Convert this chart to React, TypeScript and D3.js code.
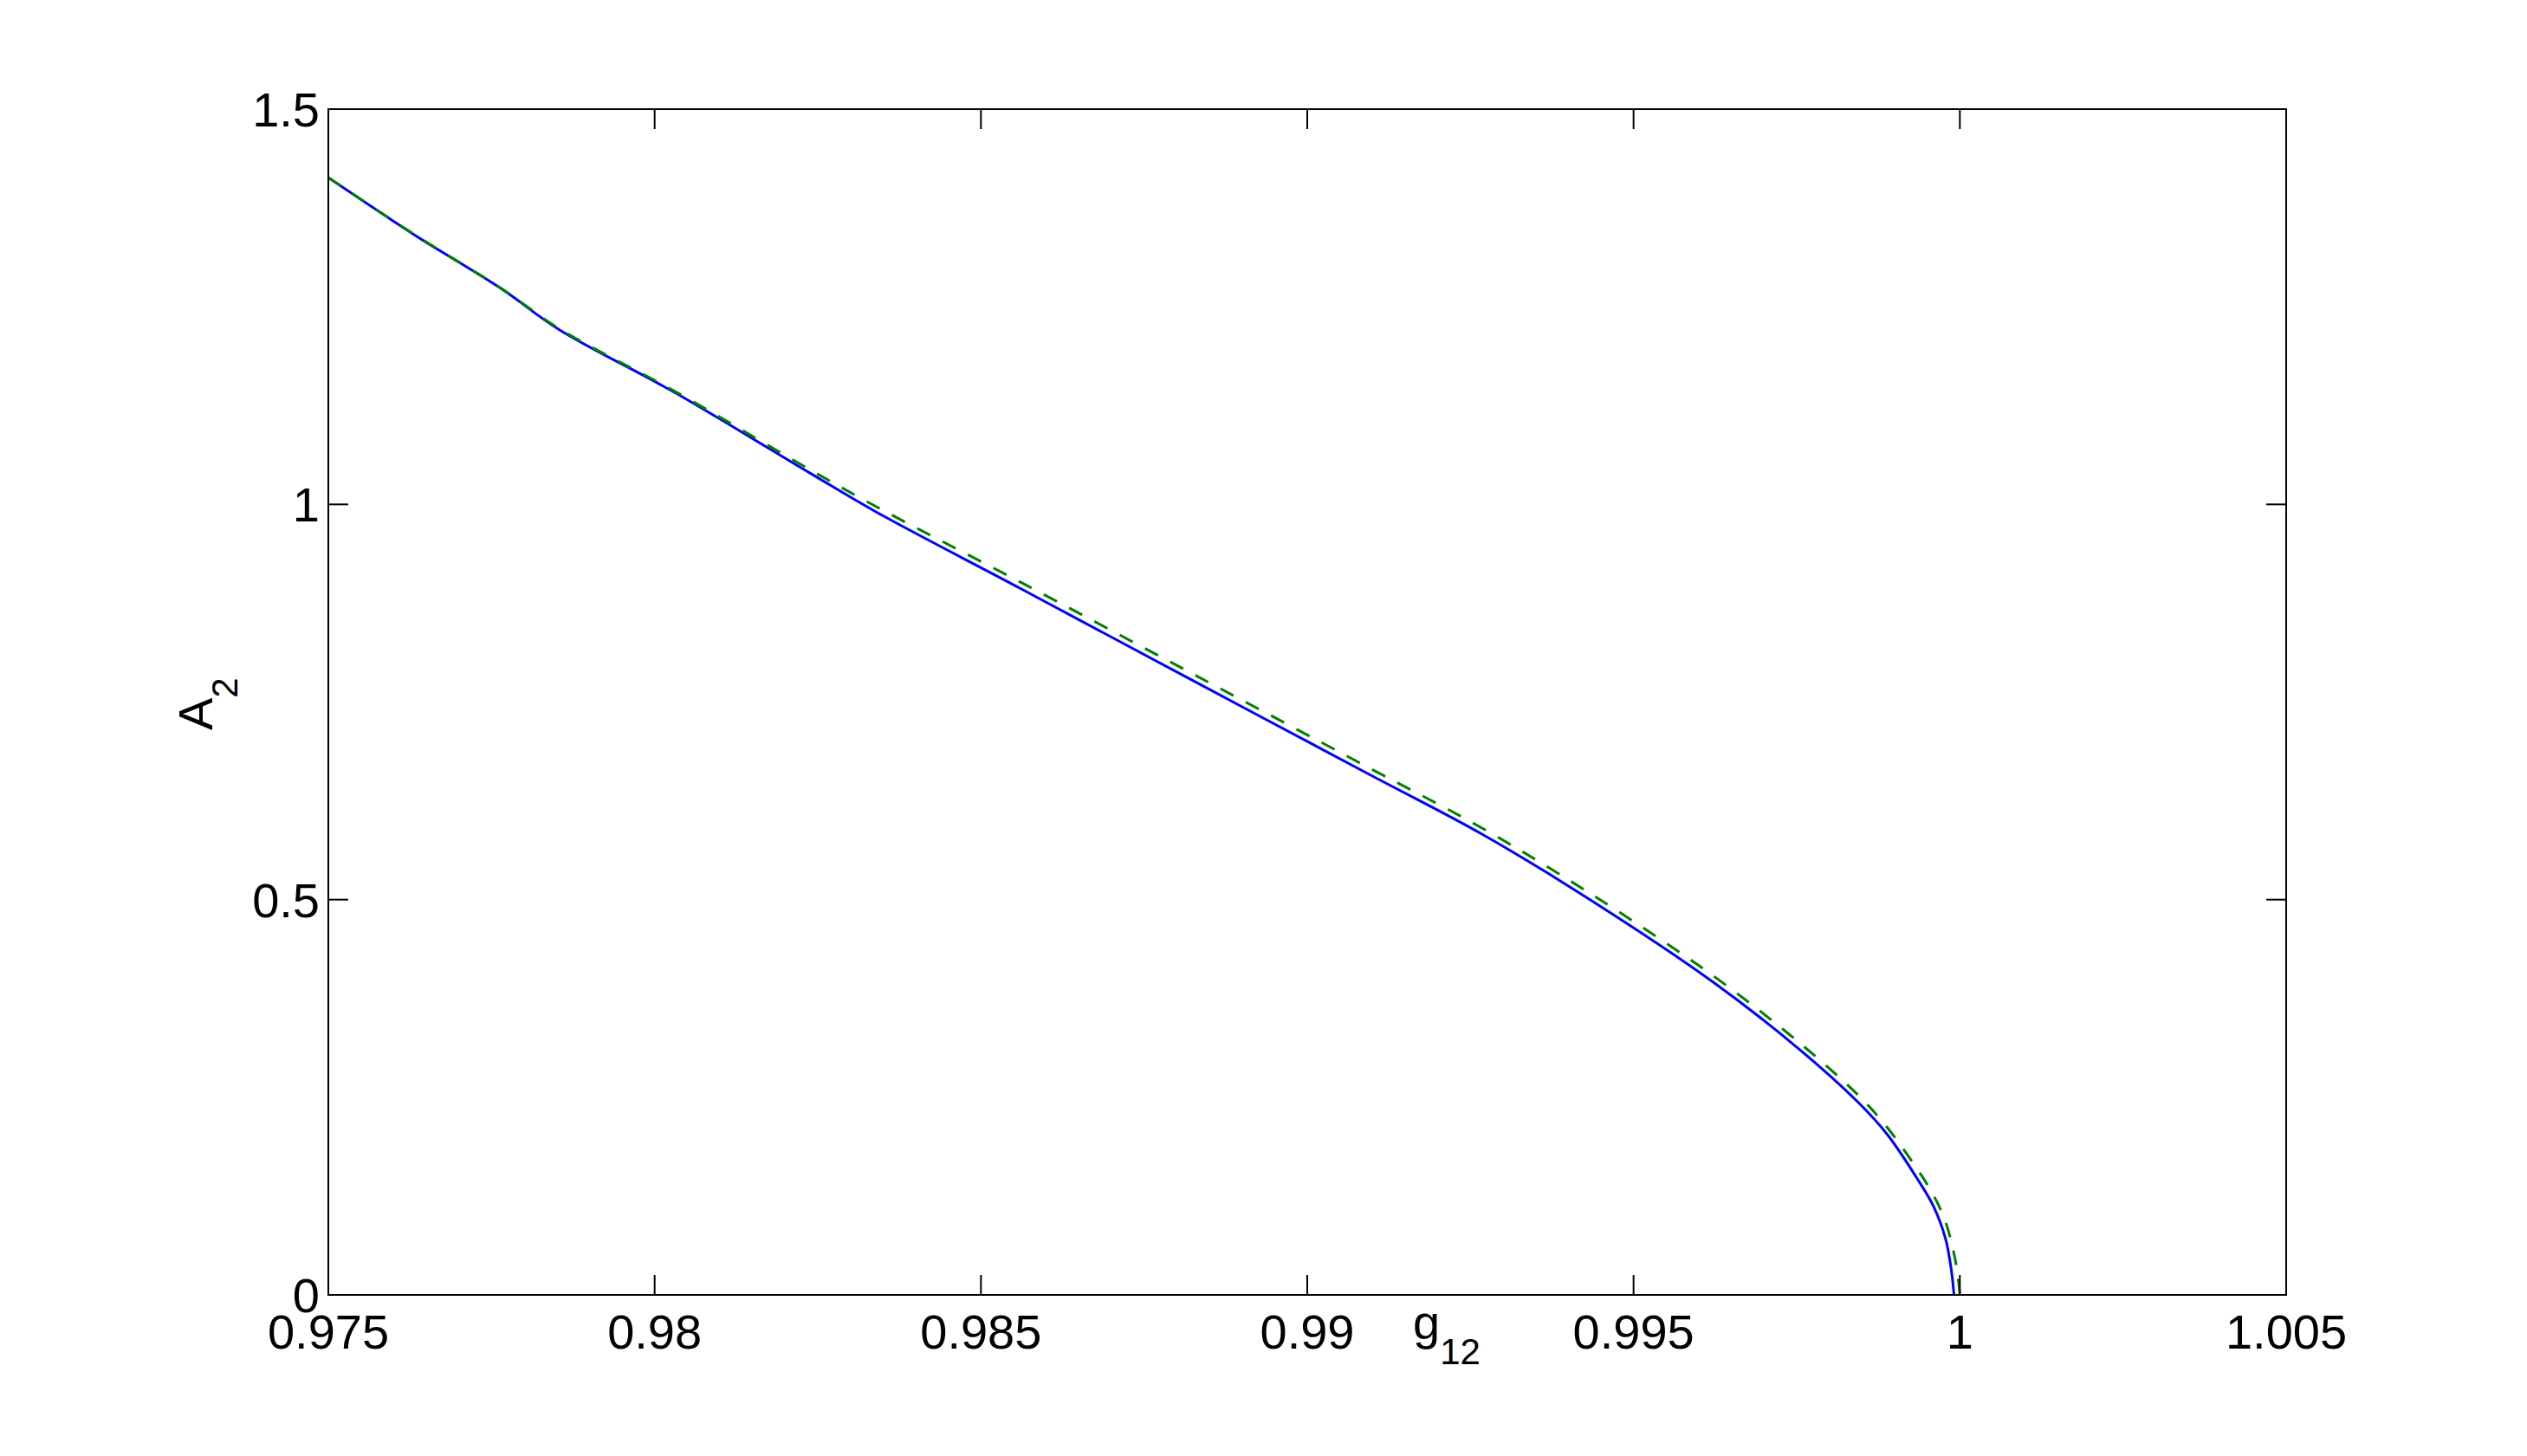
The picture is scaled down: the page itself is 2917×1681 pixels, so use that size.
import React from "react";
import * as d3 from "d3";

// ---- data ----
const blueG = [0.975, 0.97633, 0.97765, 0.97854, 0.98031, 0.98239, 0.98341, 0.98562, 0.98827, 0.99093, 0.9927, 0.99438, 0.99624, 0.99757, 0.99845, 0.99889, 0.99934, 0.9996, 0.99978, 0.99987, 0.99991];
const blueA = [1.4134, 1.3404, 1.2728, 1.2209, 1.1414, 1.0391, 0.9897, 0.893, 0.7761, 0.6593, 0.5818, 0.4974, 0.3944, 0.3086, 0.2429, 0.2027, 0.1479, 0.1114, 0.0712, 0.031, 0.0];

const greenG = [0.975, 0.97633, 0.97765, 0.97854, 0.98031, 0.98239, 0.98341, 0.98562, 0.98827, 0.99093, 0.9927, 0.99438, 0.99624, 0.99757, 0.99845, 0.99889, 0.99934, 0.9996, 0.99978, 0.9999, 0.99996, 1.0];
const greenA = [1.4134, 1.3408, 1.2732, 1.2222, 1.143, 1.0435, 0.9965, 0.901, 0.7845, 0.6675, 0.5895, 0.5055, 0.4025, 0.317, 0.252, 0.2115, 0.16, 0.1255, 0.0925, 0.056, 0.03, 0.0];

const xTicks = [0.975, 0.98, 0.985, 0.99, 0.995, 1.0, 1.005];
const xTickLabels = ["0.975", "0.98", "0.985", "0.99", "0.995", "1", "1.005"];
const yTicks = [0, 0.5, 1, 1.5];
const yTickLabels = ["0", "0.5", "1", "1.5"];

const W = 2917;
const H = 1681;
const L = 379, R = 2639, T = 126, B = 1495;
const FONT = "'Liberation Sans', Arial, Helvetica, sans-serif";

export default function App() {
  const x = d3.scaleLinear().domain([0.975, 1.005]).range([L, R]);
  const y = d3.scaleLinear().domain([0, 1.5]).range([B, T]);
  const line = d3
    .line<[number, number]>()
    .x((d) => x(d[0]))
    .y((d) => y(d[1]))
    .curve(d3.curveCatmullRom.alpha(0.5));
  const bluePts = blueG.map((g, i) => [g, blueA[i]] as [number, number]);
  const greenPts = greenG.map((g, i) => [g, greenA[i]] as [number, number]);
  const tickLen = 23;

  return (
    <svg
      width={W}
      height={H}
      style={{ position: "absolute", left: 0, top: 0, background: "#fff" }}
      fontFamily={FONT}
    >
      <rect x={0} y={0} width={W} height={H} fill="#fff" />
      <defs>
        <clipPath id="plotclip">
          <rect x={L} y={T - 2} width={R - L} height={B - T + 2} />
        </clipPath>
      </defs>
      <g clipPath="url(#plotclip)">
        <path d={line(bluePts) || ""} fill="none" stroke="#0000ff" strokeWidth={3} />
        <path d={line(greenPts) || ""} fill="none" stroke="#008000" strokeWidth={3} strokeDasharray="17 16" />
      </g>
      {/* frame */}
      <rect x={L} y={T} width={R - L} height={B - T} fill="none" stroke="#000" strokeWidth={2} />
      {/* x ticks */}
      {xTicks.map((t, i) => (
        <g key={"xt" + i}>
          <line x1={x(t)} x2={x(t)} y1={B} y2={B - tickLen} stroke="#000" strokeWidth={2} />
          <line x1={x(t)} x2={x(t)} y1={T} y2={T + tickLen} stroke="#000" strokeWidth={2} />
          <text x={x(t)} y={1557} fontSize={56} textAnchor="middle" fill="#000">
            {xTickLabels[i]}
          </text>
        </g>
      ))}
      {/* y ticks */}
      {yTicks.map((t, i) => (
        <g key={"yt" + i}>
          <line x1={L} x2={L + tickLen} y1={y(t)} y2={y(t)} stroke="#000" strokeWidth={2} />
          <line x1={R} x2={R - tickLen} y1={y(t)} y2={y(t)} stroke="#000" strokeWidth={2} />
          <text x={369} y={y(t) + 20} fontSize={56} textAnchor="end" fill="#000">
            {yTickLabels[i]}
          </text>
        </g>
      ))}
      {/* x label */}
      <text x={1631} y={1546} fontSize={56} fill="#000">
        g
        <tspan fontSize={42} dy={29}>12</tspan>
      </text>
      {/* y label */}
      <text transform="translate(245,843) rotate(-90)" fontSize={56} fill="#000">
        A
        <tspan fontSize={42} dy={29}>2</tspan>
      </text>
    </svg>
  );
}
